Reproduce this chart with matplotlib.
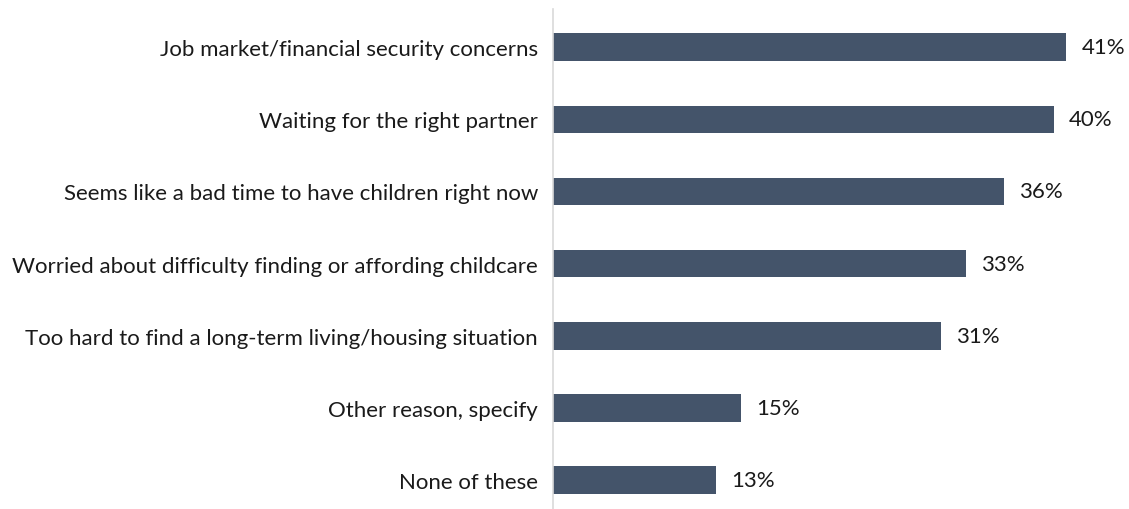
import matplotlib.pyplot as plt

reasons = [
    'Job market/financial security concerns',
    'Waiting for the right partner',
    'Seems like a bad time to have children right now',
    'Worried about difficulty finding or affording childcare',
    'Too hard to find a long-term living/housing situation',
    'Other reason, specify',
    'None of these',
]
shares = [41, 40, 36, 33, 31, 15, 13]

plt.rcParams['font.family'] = ['Lato', 'DejaVu Sans']

fig = plt.figure(figsize=(11.29, 5.10), dpi=100)
ax = fig.add_axes([0.49, 0.0, 0.51, 0.98])

ypos = list(range(len(reasons)))
ax.barh(ypos, shares, height=0.38, color='#44546A')

for y, v in zip(ypos, shares):
    ax.text(v + 1.2, y, f'{v}%', va='center', ha='left', fontsize=16, color='#1a1a1a')

ax.set_yticks(ypos)
ax.set_yticklabels(reasons, fontsize=16, color='#1a1a1a')
ax.tick_params(axis='y', length=0, pad=11)
ax.set_xticks([])
ax.set_xlim(0, 46)
ax.set_ylim(6.4, -0.526)

for side in ['top', 'right', 'bottom']:
    ax.spines[side].set_visible(False)
ax.spines['left'].set_color('#D9D9D9')
ax.spines['left'].set_linewidth(1.2)

fig.savefig('out.png', dpi=100)
